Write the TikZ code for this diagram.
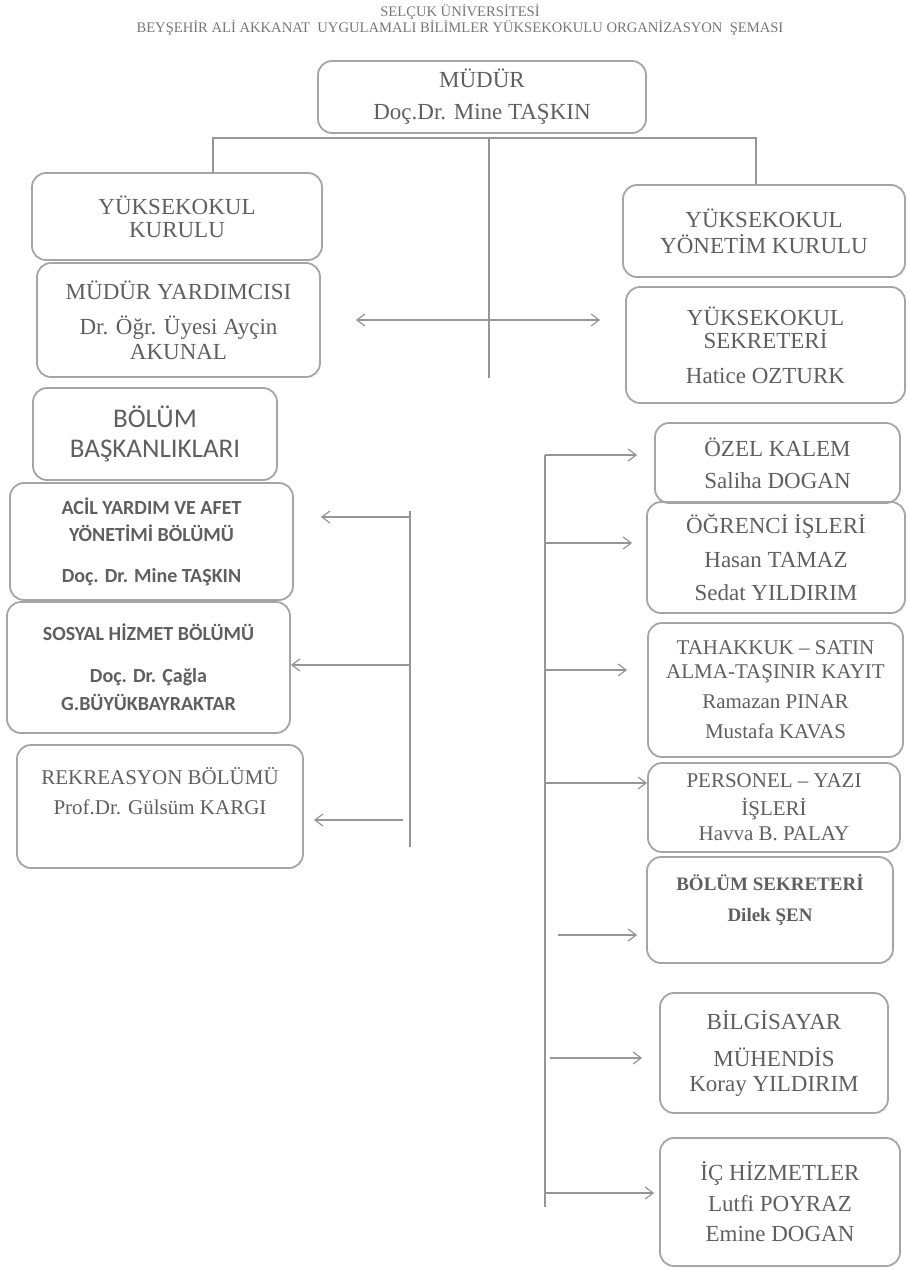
\documentclass[tikz,border=0pt]{standalone}
\usepackage{fontspec}
\setmainfont{Liberation Serif}
\newfontfamily\calibri{Carlito}
\usepackage{tikz}
\usetikzlibrary{arrows.meta, positioning}
\definecolor{ink}{RGB}{95,95,95}
\definecolor{edgegray}{RGB}{165,165,165}
\definecolor{linegray}{RGB}{150,150,150}
\tikzstyle{box} = [draw=edgegray, line width=0.9pt, rounded corners=7pt, inner sep=0pt, align=center, text=ink, font=\fontsize{11.5}{13}\selectfont]
\tikzstyle{sansbox} = [box, font=\calibri\bfseries\fontsize{10}{13.5}\selectfont]
\tikzstyle{wire} = [draw=linegray, line width=0.6pt]
\tikzstyle{heading} = [text=ink!85, font=\fontsize{7.3}{8}\selectfont]

\begin{document}
\begin{tikzpicture}[>={Straight Barb[length=4pt, width=6pt]}, x=0.5pt, y=-0.5pt]
\useasboundingbox (0,0) rectangle (906,1269);

% heading
\node[heading] (uni) at (460,12) {SELÇUK ÜNİVERSİTESİ};
\node[heading] (school) at (460,28) {BEYŞEHİR ALİ AKKANAT\enspace UYGULAMALI BİLİMLER YÜKSEKOKULU ORGANİZASYON\enspace ŞEMASI};

% top of the tree
\node[box, minimum width=164pt, minimum height=36pt] (mudur) at (482,97) {MÜDÜR\\[3pt]Doç.Dr. Mine TAŞKIN};
\node[box, minimum width=145pt, minimum height=43.5pt] (ykurul) at (177,216.5) {YÜKSEKOKUL\\[-1.5pt]KURULU};
\node[box, minimum width=141.5pt, minimum height=57pt] (myard) at (178.5,320) {MÜDÜR YARDIMCISI\\[4.5pt]Dr. Öğr. Üyesi Ayçin\\[-0.5pt]AKUNAL};
\node[box, minimum width=141pt, minimum height=46pt] (yyonetim) at (764,231) {YÜKSEKOKUL\\YÖNETİM KURULU};
\node[box, minimum width=139.5pt, minimum height=58pt] (ysekreter) at (765.5,345) {YÜKSEKOKUL\\[-1.5pt]SEKRETERİ\\[4.5pt]Hatice OZTURK};

% departments
\node[box, minimum width=122pt, minimum height=46pt, font=\calibri\fontsize{13.5}{15}\selectfont] (bolum) at (155,434) {BÖLÜM\\BAŞKANLIKLARI};
\node[sansbox, minimum width=141.5pt, minimum height=58.5pt] (acil) at (151.5,541.5) {ACİL YARDIM VE AFET\\YÖNETİMİ BÖLÜMÜ\\[7pt]Doç. Dr. Mine TAŞKIN};
\node[sansbox, minimum width=141.5pt, minimum height=65.5pt] (sosyal) at (148.5,667.5) {SOSYAL HİZMET BÖLÜMÜ\\[7.5pt]Doç. Dr. Çağla\\[0.5pt]G.BÜYÜKBAYRAKTAR};
\node[box, minimum width=143pt, minimum height=61.5pt, font=\fontsize{10.5}{13}\selectfont] (rekreasyon) at (160,806.5) {REKREASYON BÖLÜMÜ\\[2pt]Prof.Dr. Gülsüm KARGI\\[3pt]\mbox{}};

% offices
\node[box, minimum width=122.5pt, minimum height=40pt] (ozel) at (777.5,463) {ÖZEL KALEM\\[3pt]Saliha DOGAN};
\node[box, minimum width=129pt, minimum height=55.5pt] (ogrenci) at (776,557.5) {ÖĞRENCİ İŞLERİ\\[4pt]Hasan TAMAZ\\[3.5pt]Sedat YILDIRIM};
\node[box, minimum width=127.5pt, minimum height=67pt, font=\fontsize{10.5}{13}\selectfont] (tahakkuk) at (775.5,690) {TAHAKKUK – SATIN\\[-1pt]ALMA-TAŞINIR KAYIT\\[2pt]Ramazan PINAR\\[2pt]Mustafa KAVAS};
\node[box, minimum width=126pt, minimum height=44.5pt, font=\fontsize{10.5}{13}\selectfont] (personel) at (774,807.5) {PERSONEL – YAZI\\[1pt]İŞLERİ\\[-0.5pt]Havva B. PALAY};
\node[box, minimum width=123pt, minimum height=53pt, font=\bfseries\fontsize{9.5}{13}\selectfont] (bsekreter) at (770,910) {BÖLÜM SEKRETERİ\\[2.5pt]Dilek ŞEN\\[-0.5pt]\mbox{}};
\node[box, minimum width=114pt, minimum height=60pt] (bilgisayar) at (774,1053) {BİLGİSAYAR\\[5.5pt]MÜHENDİS\\[-0.5pt]Koray YILDIRIM};
\node[box, minimum width=120pt, minimum height=64pt] (ichizmet) at (780,1202) {İÇ HİZMETLER\\[2.5pt]Lutfi POYRAZ\\[2pt]Emine DOGAN};

% tree lines
\coordinate (hl) at (213,138);
\coordinate (hr) at (756,138);
\coordinate (hm) at (489,138);
\coordinate (mend) at (489,378);
\draw[wire] (ykurul.north -| hl) -- (hl) -- (hr) -- (yyonetim.north -| hr);
\draw[wire] (hm) -- (mend);
\draw[wire, <->, shorten <=17.5pt, shorten >=12.5pt] (myard.east) -- (myard.east -| ysekreter.west);

% left bus
\coordinate (ltop) at (410,511);
\coordinate (l1) at (410,517);
\coordinate (l2) at (410,665);
\coordinate (l3) at (410,820);
\coordinate (lbot) at (410,847);
\draw[wire] (ltop) -- (lbot);
\draw[wire, ->, shorten >=13.5pt] (l1) -- (l1 -| acil.east);
\draw[wire, ->] (l2) -- (l2 -| sosyal.east);
\draw[wire, ->, shorten <=3.5pt, shorten >=5pt] (l3) -- (l3 -| rekreasyon.east);

% right bus
\coordinate (r1) at (545,455);
\coordinate (r2) at (545,543);
\coordinate (r3) at (545,670);
\coordinate (r4) at (545,783);
\coordinate (r5) at (545,935);
\coordinate (r6) at (545,1058);
\coordinate (r7) at (545,1193);
\coordinate (rbot) at (545,1207);
\draw[wire] (r1) -- (rbot);
\draw[wire, ->, shorten >=8.5pt] (r1) -- (r1 -| ozel.west);
\draw[wire, ->, shorten >=7pt] (r2) -- (r2 -| ogrenci.west);
\draw[wire, ->, shorten >=10pt] (r3) -- (r3 -| tahakkuk.west);
\draw[wire, ->] (r4) -- (r4 -| personel.west);
\draw[wire, ->, shorten <=6.5pt, shorten >=4.5pt] (r5) -- (r5 -| bsekreter.west);
\draw[wire, ->, shorten <=2.5pt, shorten >=8.5pt] (r6) -- (r6 -| bilgisayar.west);
\draw[wire, ->, shorten >=2.5pt] (r7) -- (r7 -| ichizmet.west);
\end{tikzpicture}
\end{document}
